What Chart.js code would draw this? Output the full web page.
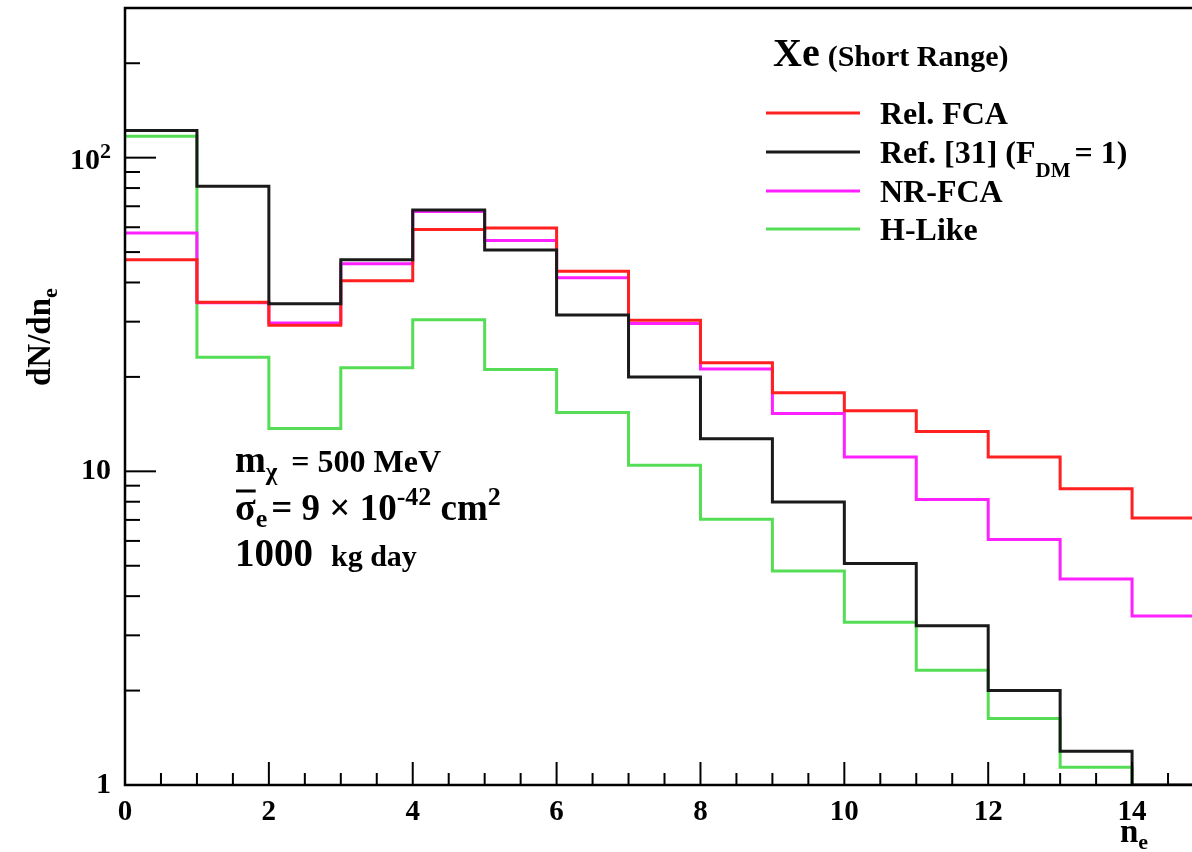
<!DOCTYPE html>
<html lang="en">
<head>
<meta charset="UTF-8">
<title>Xe (Short Range) dN/dne</title>
<script src="https://cdn.jsdelivr.net/npm/chart.js"></script>
<style>
  html, body { margin: 0; padding: 0; overflow: hidden; background: #fff; }
  canvas { display: block; }
</style>
</head>
<body>
<canvas id="myChart" width="1214" height="852"></canvas>
<script>
// bin edges n_e = 0..15, one value per bin
var binEdges = [0, 1, 2, 3, 4, 5, 6, 7, 8, 9, 10, 11, 12, 13, 14, 15];
var relFCA = [47.3, 34.6, 29.2, 40.5, 59.0, 59.7, 43.4, 30.3, 22.2, 17.8, 15.6, 13.4, 11.1, 8.8, 7.1];
var ref31  = [122, 81, 34.2, 47.3, 68.1, 50.8, 31.5, 20.0, 12.7, 7.98, 5.08, 3.22, 2.0, 1.28, 1.0];
var nrFCA  = [57.5, 34.5, 29.7, 45.9, 67.3, 54.4, 41.4, 29.6, 21.2, 15.3, 11.1, 8.13, 6.06, 4.54, 3.46];
var hLike  = [117, 23.1, 13.7, 21.4, 30.4, 21.1, 15.4, 10.45, 7.03, 4.81, 3.30, 2.32, 1.63, 1.14, 0.9];

var xTicks = [0, 2, 4, 6, 8, 10, 12, 14];
var yTicks = [1, 10, 100];
var yTickLabels = ['1', '10', ''];   // 10^2 is drawn by hand (superscript)

var FONT = '"Liberation Serif", "Times New Roman", serif';

function steps(vals) {
    var pts = vals.map(function(v, i) { return { x: binEdges[i], y: v }; });
    pts.push({ x: binEdges[vals.length], y: vals[vals.length - 1] });
    return pts;
}

function font(size) { return 'bold ' + size + 'px ' + FONT; }

// draw a sequence of text pieces with their own size / vertical shift
function runs(ctx, x, y, parts) {
    parts.forEach(function(p) {
        if (p.gap) { x += p.gap; return; }
        ctx.font = font(p.size);
        ctx.fillText(p.t, x, y + (p.dy || 0));
        x += ctx.measureText(p.t).width;
    });
    return x;
}

var decor = {
    id: 'decor',
    afterDraw: function(chart) {
        var ctx = chart.ctx;
        var a = chart.chartArea;
        var xs = chart.scales.x, ys = chart.scales.y;
        ctx.save();
        ctx.strokeStyle = '#000';
        ctx.fillStyle = '#000';

        // frame
        ctx.lineWidth = 2.5;
        ctx.beginPath();
        ctx.moveTo(a.right + 5, a.top);
        ctx.lineTo(a.left, a.top);
        ctx.lineTo(a.left, a.bottom);
        ctx.lineTo(a.right + 5, a.bottom);
        ctx.stroke();

        // x ticks (inside)
        ctx.lineWidth = 2;
        for (var i = 1; i <= 30; i++) {
            var v = i / 2;
            var px = xs.getPixelForValue(v);
            var len = (v % 2 === 0) ? 23 : 12;
            ctx.beginPath();
            ctx.moveTo(px, a.bottom);
            ctx.lineTo(px, a.bottom - len);
            ctx.stroke();
        }
        // y ticks (inside), log minor ticks
        [1, 10, 100].forEach(function(d) {
            for (var m = 1; m <= 9; m++) {
                var val = d * m;
                if (val <= 1 || val > 300) continue;
                var py = ys.getPixelForValue(val);
                var l = (m === 1) ? 31 : 15;
                ctx.beginPath();
                ctx.moveTo(a.left, py);
                ctx.lineTo(a.left + l, py);
                ctx.stroke();
            }
        });

        ctx.textBaseline = 'alphabetic';
        ctx.textAlign = 'left';

        // 10^2 tick label
        var p100 = ys.getPixelForValue(100);
        runs(ctx, 70, p100 + 11, [{ t: '10', size: 30 }, { t: '2', size: 22, dy: -11 }]);

        // axis titles
        runs(ctx, 1120, 842, [{ t: 'n', size: 33 }, { t: 'e', size: 22, dy: 7 }]);
        ctx.save();
        ctx.translate(50, 386);
        ctx.rotate(-Math.PI / 2);
        runs(ctx, 0, 0, [{ t: 'dN/dn', size: 33 }, { t: 'e', size: 22, dy: 7 }]);
        ctx.restore();

        // legend
        runs(ctx, 773, 66, [{ t: 'Xe', size: 40 }, { gap: 8 }, { t: '(Short Range)', size: 30 }]);
        var entries = [
            { c: '#ff2020', parts: [{ t: 'Rel. FCA', size: 32 }] },
            { c: '#1a1a1a', parts: [{ t: 'Ref. [31] (F', size: 32 }, { t: 'DM', size: 21, dy: 14 }, { gap: 4 }, { t: '= 1)', size: 32 }] },
            { c: '#ff20ff', parts: [{ t: 'NR-FCA', size: 32 }] },
            { c: '#55dd55', parts: [{ t: 'H-Like', size: 32 }] }
        ];
        var ly = [113, 152, 191, 229];
        entries.forEach(function(e, k) {
            ctx.strokeStyle = e.c;
            ctx.lineWidth = 3;
            ctx.beginPath();
            ctx.moveTo(766, ly[k]);
            ctx.lineTo(860, ly[k]);
            ctx.stroke();
            runs(ctx, 880, ly[k] + 11, e.parts);
        });

        // annotation block
        var ex = runs(ctx, 235, 472, [{ t: 'm', size: 37 }, { t: 'χ', size: 25, dy: 8 }]);
        runs(ctx, ex + 14, 472, [{ t: '= 500 MeV', size: 32 }]);

        ctx.font = font(38);
        var sw = ctx.measureText('σ').width;
        ctx.strokeStyle = '#000';
        ctx.lineWidth = 3;
        ctx.beginPath();
        ctx.moveTo(236, 491);
        ctx.lineTo(235 + sw, 491);
        ctx.stroke();
        runs(ctx, 235, 520, [
            { t: 'σ', size: 38 }, { t: 'e', size: 26, dy: 7 }, { gap: 4 },
            { t: '= 9 × 10', size: 37 }, { t: '-42', size: 26, dy: -15 },
            { t: ' cm', size: 37 }, { t: '2', size: 26, dy: -15 }
        ]);
        runs(ctx, 235, 566, [{ t: '1000', size: 39 }, { gap: 18 }, { t: 'kg day', size: 30 }]);

        ctx.restore();
    }
};

function noPad(s) { s.paddingTop = 0; s.paddingBottom = 0; s.paddingLeft = 0; s.paddingRight = 0; }

var ctx = document.getElementById('myChart').getContext('2d');
var myChart = new Chart(ctx, {
    type: 'line',
    data: {
        datasets: [
            { label: 'Ref. [31] (F_DM = 1)', data: steps(ref31), borderColor: '#1a1a1a', order: 0 },
            { label: 'Rel. FCA', data: steps(relFCA), borderColor: '#ff2020', order: 1 },
            { label: 'NR-FCA', data: steps(nrFCA), borderColor: '#ff20ff', order: 2 },
            { label: 'H-Like', data: steps(hLike), borderColor: '#55dd55', order: 3 }
        ].map(function(d) {
            d.stepped = 'before';
            d.borderWidth = 3;
            d.pointRadius = 0;
            d.fill = false;
            d.clip = 0;
            return d;
        })
    },
    options: {
        responsive: false,
        animation: false,
        layout: { padding: { top: 8, right: 10, left: 0, bottom: 0 } },
        plugins: { legend: { display: false }, tooltip: { enabled: false } },
        scales: {
            x: {
                type: 'linear', min: 0, max: 15,
                grid: { display: false, drawTicks: false },
                border: { display: false },
                afterBuildTicks: function(s) { s.ticks = xTicks.map(function(v) { return { value: v }; }); },
                afterFit: function(s) { s.height = 67; noPad(s); },
                ticks: {
                    padding: 10, color: '#000', maxRotation: 0, autoSkip: false,
                    font: { family: FONT, size: 29, weight: 'bold' },
                    callback: function(v) { return String(v); }
                }
            },
            y: {
                type: 'logarithmic', min: 1, max: 300,
                grid: { display: false, drawTicks: false },
                border: { display: false },
                afterBuildTicks: function(s) { s.ticks = yTicks.map(function(v) { return { value: v }; }); },
                afterFit: function(s) { s.width = 125; noPad(s); },
                ticks: {
                    padding: 14, color: '#000', autoSkip: false,
                    font: { family: FONT, size: 30, weight: 'bold' },
                    callback: function(v) { return yTickLabels[yTicks.indexOf(v)]; }
                }
            }
        }
    },
    plugins: [decor]
});
</script>
</body>
</html>
